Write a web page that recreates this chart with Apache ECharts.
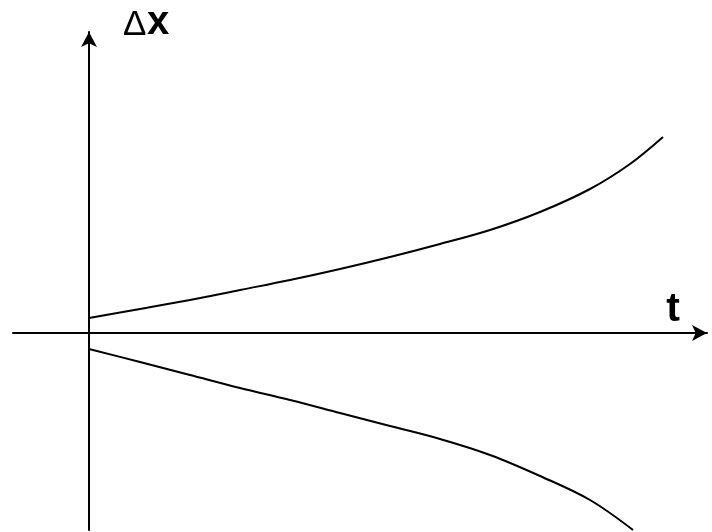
<!DOCTYPE html>
<html>
<head>
<meta charset="utf-8">
<script src="https://cdn.jsdelivr.net/npm/echarts@6/dist/echarts.min.js"></script>
<style>
  html, body { margin: 0; padding: 0; background: #fff; }
  #chart { width: 712px; height: 532px; }
</style>
</head>
<body>
<div id="chart"></div>
<script>
// t values and Δx values (upper and lower branch)
const upperT = [0, 51, 101, 151, 201, 251, 301, 351, 401, 451, 501, 541, 574];
const upperDx = [15, 24, 33, 43, 53, 64, 76, 89, 103, 121, 144, 169, 196];
const lowerT = [0, 51, 101, 151, 201, 251, 301, 351, 401, 451, 501, 544];
const lowerDx = [-16, -29, -42, -55, -67, -80, -93, -106, -122, -143, -167, -197];

const toPairs = (xs, ys) => xs.map((x, i) => [x, ys[i]]);

const chart = echarts.init(document.getElementById('chart'));

const axisCommon = {
  type: 'value',
  axisLine: {
    onZero: true,
    symbol: ['none', 'arrow'],
    symbolSize: [12, 15],
    lineStyle: { color: '#000', width: 2 }
  },
  axisTick: { show: false },
  axisLabel: { show: false },
  splitLine: { show: false }
};

const fontFamily = '"Liberation Sans", Arial, sans-serif';

chart.setOption({
  animation: false,
  backgroundColor: '#fff',
  grid: { left: 13, right: 5, top: 32, bottom: 2 },
  xAxis: Object.assign({}, axisCommon, { min: -76, max: 618 }),
  yAxis: Object.assign({}, axisCommon, { min: -197, max: 301 }),
  series: [
    {
      type: 'line',
      data: toPairs(upperT, upperDx),
      smooth: 0.35,
      showSymbol: false,
      lineStyle: { color: '#000', width: 2 }
    },
    {
      type: 'line',
      data: toPairs(lowerT, lowerDx),
      smooth: 0.35,
      showSymbol: false,
      lineStyle: { color: '#000', width: 2 }
    }
  ],
  graphic: [
    {
      type: 'text', x: 123, y: 25,
      style: { text: 'Δ', fontSize: 35, fontFamily: fontFamily, fill: '#000', verticalAlign: 'middle' }
    },
    {
      type: 'text', x: 147, y: 23,
      style: { text: 'x', fontSize: 40, fontWeight: 'bold', fontFamily: fontFamily, fill: '#000', verticalAlign: 'middle' }
    },
    {
      type: 'text', x: 673, y: 310,
      style: { text: 't', fontSize: 41, fontWeight: 'bold', fontFamily: fontFamily, fill: '#000', align: 'center', verticalAlign: 'middle' }
    }
  ]
});
</script>
</body>
</html>
